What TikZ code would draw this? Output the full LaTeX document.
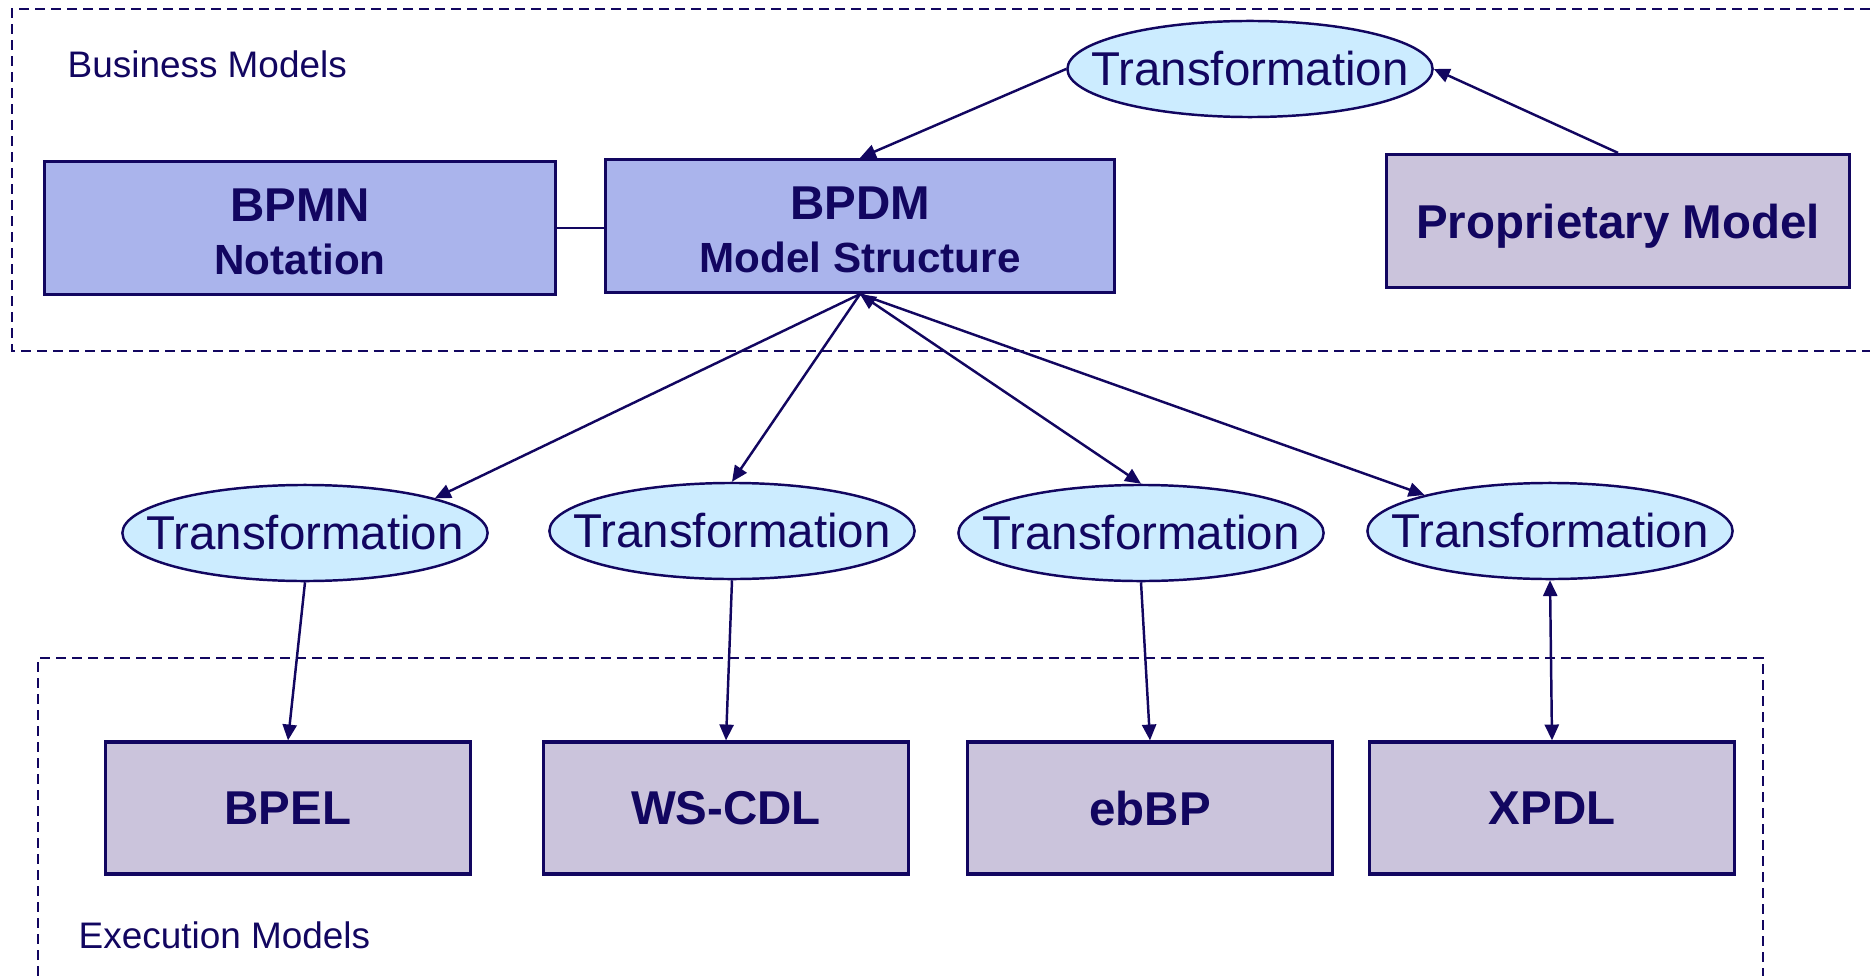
\documentclass[tikz,border=0pt]{standalone}
\usepackage{fontspec}
\setmainfont{Liberation Sans}
\usetikzlibrary{arrows.meta,shapes.geometric}
\definecolor{navy}{RGB}{18,6,96}
\definecolor{bluebox}{RGB}{170,180,236}
\definecolor{greybox}{RGB}{203,196,220}
\definecolor{lightell}{RGB}{204,236,255}
\tikzset{
  bizbox/.style ={draw=navy,line width=0.9pt,fill=bluebox,text=navy,align=center,inner sep=0pt,
                  minimum width=5.1cm,minimum height=1.33cm,font=\fontsize{13.5}{15}\selectfont\bfseries},
  exebox/.style ={draw=navy,line width=0.9pt,fill=greybox,text=navy,inner sep=0pt,text depth=0pt,
                  minimum width=3.65cm,minimum height=1.32cm,font=\fontsize{13.5}{16}\selectfont\bfseries},
  trans/.style  ={ellipse,draw=navy,line width=0.7pt,fill=lightell,text=navy,inner xsep=-0.31cm,inner ysep=0pt,
                  minimum width=3.65cm,minimum height=0.96cm,font=\fontsize{13.5}{16}\selectfont},
  region/.style ={draw=navy,line width=0.8pt,dash pattern=on 0.1cm off 0.06cm},
  area/.style   ={text=navy,anchor=west,inner sep=0pt,font=\fontsize{10.5}{12}\selectfont},
  ln/.style     ={draw=navy,line width=0.7pt},
  ar/.style     ={ln,-{Triangle[length=4.5pt,width=4pt]}},
  biar/.style   ={ln,{Triangle[length=4.5pt,width=4pt]}-{Triangle[length=4.5pt,width=4pt]}},
}
\newcommand{\topln}{\rule{0pt}{11.7pt}}
\begin{document}
\begin{tikzpicture}[x=0.01cm,y=-0.01cm]
  \useasboundingbox (0,0) rectangle (1870,976);
  % the two layers
  \draw[region] (1870,9) -- (12,9) -- (12,351) -- (1870,351);
  \draw[region] (38,976) -- (38,658) -- (1763,658) -- (1763,976);
  \node[area] (bizlbl) at (67,64) {Business Models};
  \node[area] (exelbl) at (78,935) {Execution Models};

  % business models
  \node[bizbox] (bpmn) at (300,228) {\topln BPMN\\{\fontsize{12}{15}\selectfont Notation}};
  \node[bizbox,minimum width=5.09cm] (bpdm) at (860,226) {\topln BPDM\\{\fontsize{12}{15}\selectfont Model Structure}};
  \node[exebox,minimum width=4.63cm,minimum height=1.33cm] (propm) at (1618,221) {Proprietary Model};
  \node[trans] (trtop) at (1250,69) {Transformation};

  % transformations
  \node[trans] (tr1) at (305,533) {Transformation};
  \node[trans] (tr2) at (732,531) {Transformation};
  \node[trans] (tr3) at (1141,533) {Transformation};
  \node[trans] (tr4) at (1550,531) {Transformation};

  % execution models
  \node[exebox] (bpel)  at (288,808)  {BPEL};
  \node[exebox] (wscdl) at (726,808)  {WS-CDL};
  \node[exebox] (ebbp)  at (1150,808) {ebBP};
  \node[exebox] (xpdl)  at (1552,808) {XPDL};

  \draw[ln] (bpmn.east) -- (bpmn.east -| bpdm.west);
  \draw[ar] (trtop.west) -- (bpdm.north);
  \draw[ar] (propm.north) -- (trtop.east);
  \draw[ar] (bpdm.south) -- (tr1.15);
  \draw[ar] (bpdm.south) -- (tr2.north);
  \draw[biar] (bpdm.south) -- (tr3.north);
  \draw[ar] (bpdm.south) -- (tr4.164);
  \draw[ar] (tr1.south) -- (bpel.north);
  \draw[ar] (tr2.south) -- (wscdl.north);
  \draw[ar] (tr3.south) -- (ebbp.north);
  \draw[biar] (tr4.south) -- (xpdl.north);
\end{tikzpicture}
\end{document}
